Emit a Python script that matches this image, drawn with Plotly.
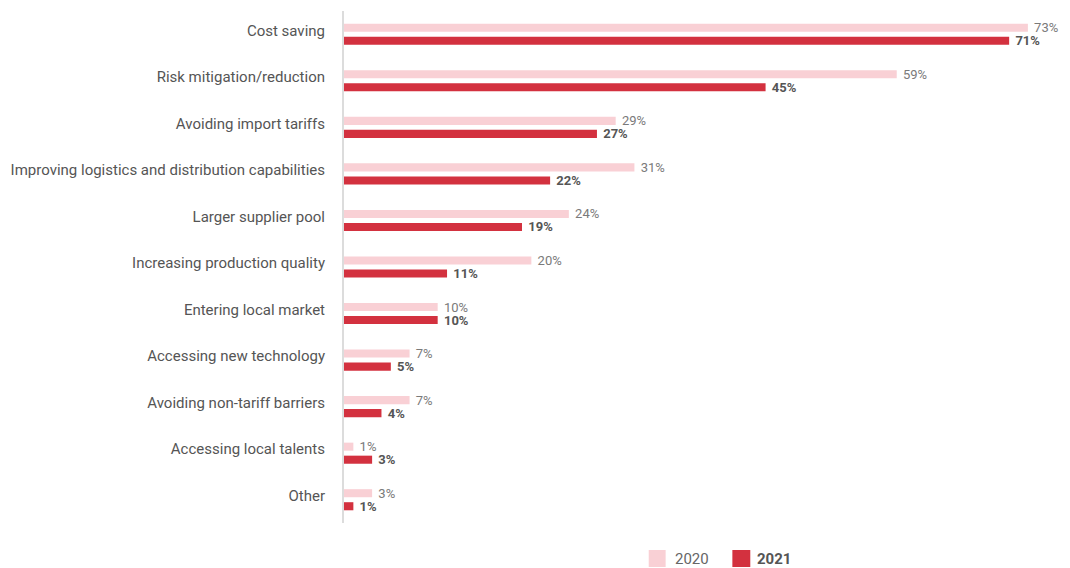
import plotly.graph_objects as go

# Reasons for relocating / diversifying production, share of respondents (%)
categories = [
    "Cost saving",
    "Risk mitigation/reduction",
    "Avoiding import tariffs",
    "Improving logistics and distribution capabilities",
    "Larger supplier pool",
    "Increasing production quality",
    "Entering local market",
    "Accessing new technology",
    "Avoiding non-tariff barriers",
    "Accessing local talents",
    "Other",
]
values_2020 = [73, 59, 29, 31, 24, 20, 10, 7, 7, 1, 3]
values_2021 = [71, 45, 27, 22, 19, 11, 10, 5, 4, 3, 1]
series_names = ["2020", "2021"]

COLOR_2020 = "#f9d0d5"
COLOR_2021 = "#d3313f"
FONT = "Roboto, Arial, sans-serif"

fig = go.Figure()
fig.add_trace(go.Bar(
    y=categories, x=values_2020, orientation="h", name=series_names[0],
    marker=dict(color=COLOR_2020, line=dict(width=0)),
    texttemplate="\u00a0%{x}%", textposition="outside", cliponaxis=False,
    constraintext="none",
    textfont=dict(family=FONT, size=13, color="#7a7a7a"),
    showlegend=False,
))
fig.add_trace(go.Bar(
    y=categories, x=values_2021, orientation="h", name=series_names[1],
    marker=dict(color=COLOR_2021, line=dict(width=0)),
    texttemplate="\u00a0<b>%{x}%</b>", textposition="outside", cliponaxis=False,
    constraintext="none",
    textfont=dict(family=FONT, size=13, color="#555555"),
    showlegend=False,
))

# Plot area geometry (pixels) used to place the custom legend
W, H = 1070, 568
ML, MR, MT, MB = 341, 14, 11, 45
PW, PH = W - ML - MR, H - MT - MB


def px_x(x):
    return (x - ML) / PW


def px_y(y):
    return (H - MB - y) / PH


legend_items = [
    (series_names[0], COLOR_2020, 647, 664, 671, "#666666", False),
    (series_names[1], COLOR_2021, 731, 749, 754, "#555555", True),
]
shapes = []
annotations = []
for name, color, x0, x1, tx, tcolor, bold in legend_items:
    shapes.append(dict(type="rect", xref="paper", yref="paper",
                       x0=px_x(x0), x1=px_x(x1), y0=px_y(567), y1=px_y(550),
                       fillcolor=color, line=dict(width=0)))
    annotations.append(dict(xref="paper", yref="paper", x=px_x(tx), y=px_y(559),
                            xanchor="left", yanchor="middle", showarrow=False,
                            text=f"<b>{name}</b>" if bold else name,
                            font=dict(family=FONT, size=15, color=tcolor)))

fig.update_layout(
    width=W, height=H,
    margin=dict(l=ML, r=MR, t=MT, b=MB),
    paper_bgcolor="white", plot_bgcolor="white",
    barmode="group", bargap=0.44, bargroupgap=0.38,
    font=dict(family=FONT, color="#555555"),
    shapes=shapes, annotations=annotations,
    xaxis=dict(range=[0, 76], showgrid=False, zeroline=False,
               showticklabels=False, showline=False, fixedrange=True),
    yaxis=dict(autorange="reversed", showgrid=False, zeroline=False,
               showline=True, linecolor="#dcdcdc", linewidth=2,
               ticks="", ticklabelstandoff=14, ticklabelshift=4,
               tickfont=dict(family=FONT, size=15, color="#555555")),
)

fig.write_html("out.html")
